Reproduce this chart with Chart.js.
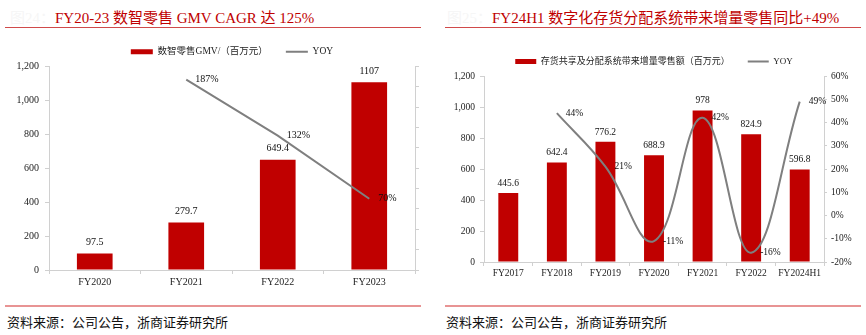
<html>
<head>
<meta charset="utf-8">
<script src="https://cdnjs.cloudflare.com/ajax/libs/Chart.js/4.4.1/chart.umd.min.js"></script>
<style>
  body { margin: 0; width: 866px; height: 335px; background: #fff; position: relative; overflow: hidden; }
  .title { position: absolute; top: 6px; font-family: "Liberation Serif", "Noto Sans CJK SC", serif; font-size: 15px; color: #c00000; white-space: nowrap; }
  .title span { color: #f6f6f6; }
  .rule { position: absolute; height: 1px; background: #d04a4a; }
  .foot { position: absolute; height: 2px; background: #e89494; top: 305px; }
  .source { position: absolute; top: 312px; font-family: "Noto Sans CJK SC", sans-serif; font-size: 13px; color: #111; white-space: nowrap; }
  canvas { position: absolute; }
</style>
</head>
<body>
  <div class="title" style="left:10px"><span>图24：</span>FY20-23 数智零售 GMV CAGR 达 125%</div>
  <div class="rule" style="left:5px; width:416px; top:27px"></div>
  <div class="title" style="left:447px"><span>图25：</span>FY24H1 数字化存货分配系统带来增量零售同比+49%</div>
  <div class="rule" style="left:445px; width:416px; top:27px"></div>

  <canvas id="leftChart" width="430" height="269" style="left:0; top:29px"></canvas>
  <canvas id="rightChart" width="433" height="249" style="left:433px; top:39px"></canvas>

  <div class="foot" style="left:5px; width:416px"></div>
  <div class="foot" style="left:445px; width:416px"></div>
  <div class="source" style="left:7px">资料来源：公司公告，浙商证券研究所</div>
  <div class="source" style="left:446px">资料来源：公司公告，浙商证券研究所</div>

<script>
  // left chart: 数智零售 GMV
  var leftCats = ['FY2020', 'FY2021', 'FY2022', 'FY2023'];
  var leftGmv = [97.5, 279.7, 649.4, 1107];
  var leftYoy = [null, 1.87, 1.32, 0.70];

  // right chart: 存货共享及分配系统带来增量零售额
  var rightCats = ['FY2017', 'FY2018', 'FY2019', 'FY2020', 'FY2021', 'FY2022', 'FY2024H1'];
  var rightSales = [445.6, 642.4, 776.2, 688.9, 978, 824.9, 596.8];
  var rightYoy = [null, 0.44, 0.21, -0.11, 0.42, -0.16, 0.49];

  var serif = '"Liberation Serif", "Noto Sans CJK SC", serif';
  var barRed = '#c00000';
  var lineGray = '#7f7f7f';
  var axisGray = '#d0d0d0';

  Chart.defaults.font.family = serif;
  Chart.defaults.color = '#222';

  function pct(v) { return Math.round(v * 100) + '%'; }

  // draws the numbers on bars and line points
  var valueLabels = {
    id: 'valueLabels',
    afterDatasetsDraw(chart, args, opts) {
      var ctx = chart.ctx;
      ctx.save();
      ctx.font = opts.size + 'px ' + serif;
      ctx.fillStyle = '#111';
      ctx.textBaseline = 'middle';
      chart.data.datasets.forEach(function (ds, i) {
        var meta = chart.getDatasetMeta(i);
        meta.data.forEach(function (el, j) {
          var v = ds.data[j];
          if (v == null) return;
          if (ds.type === 'line') {
            ctx.textAlign = 'left';
            ctx.fillText(pct(v), el.x + opts.lineGap, el.y);
          } else {
            ctx.textAlign = 'center';
            ctx.fillText(String(v), el.x, el.y - opts.barGap);
          }
        });
      });
      ctx.restore();
    }
  };

  function fixWidth(w) { return function (scale) { scale.width = w; }; }
  function fixHeight(h) { return function (scale) { scale.height = h; }; }

  // left
  new Chart(document.getElementById('leftChart'), {
    type: 'bar',
    data: {
      labels: leftCats,
      datasets: [
        { type: 'bar', label: '数智零售GMV/（百万元）', data: leftGmv, backgroundColor: barRed,
          barPercentage: 0.39, categoryPercentage: 1, yAxisID: 'y', order: 1, pointStyle: 'rect' },
        { type: 'line', label: 'YOY', data: leftYoy, borderColor: lineGray, backgroundColor: lineGray,
          borderWidth: 2, pointRadius: 0, tension: 0, yAxisID: 'y1', order: 0, pointStyle: 'line' }
      ]
    },
    options: {
      responsive: false,
      animation: false,
      layout: { padding: 0 },
      plugins: {
        tooltip: { enabled: false },
        legend: {
          fullSize: false, reverse: true, maxHeight: 39,
          labels: { usePointStyle: true, pointStyleWidth: 22, boxHeight: 5, padding: 18,
                    color: '#222', font: { size: 9.5 } }
        },
        valueLabels: { size: 10, lineGap: 9, barGap: 11 }
      },
      scales: {
        x: {
          afterFit: fixHeight(28),
          border: { color: axisGray },
          grid: { drawOnChartArea: false, color: axisGray, tickLength: 4 },
          ticks: { padding: 2, font: { size: 10 } }
        },
        y: {
          position: 'left', min: 0, max: 1200,
          afterFit: fixWidth(49),
          border: { color: axisGray },
          grid: { drawOnChartArea: false, color: axisGray, tickLength: 4 },
          ticks: { stepSize: 200, padding: 6, font: { size: 10 },
                   callback: function (v) { return v.toLocaleString('en-US'); } }
        },
        y1: {
          position: 'right', min: 0, max: 2,
          afterFit: fixWidth(15),
          border: { color: axisGray },
          grid: { drawOnChartArea: false, color: axisGray, tickLength: 4 },
          ticks: { stepSize: 0.2, display: false }
        }
      }
    },
    plugins: [valueLabels]
  });

  // right
  new Chart(document.getElementById('rightChart'), {
    type: 'bar',
    data: {
      labels: rightCats,
      datasets: [
        { type: 'bar', label: '存货共享及分配系统带来增量零售额（百万元）', data: rightSales, backgroundColor: barRed,
          barPercentage: 0.41, categoryPercentage: 1, yAxisID: 'y', order: 1, pointStyle: 'rect' },
        { type: 'line', label: 'YOY', data: rightYoy, borderColor: lineGray, backgroundColor: lineGray,
          borderWidth: 2, pointRadius: 0, tension: 0.4, yAxisID: 'y1', order: 0, pointStyle: 'line' }
      ]
    },
    options: {
      responsive: false,
      animation: false,
      layout: { padding: 0 },
      plugins: {
        tooltip: { enabled: false },
        legend: {
          fullSize: false, reverse: true, maxHeight: 37,
          labels: { usePointStyle: true, pointStyleWidth: 21, boxHeight: 5, padding: 18,
                    color: '#222', font: { size: 9 } }
        },
        valueLabels: { size: 9.5, lineGap: 9, barGap: 9.5 }
      },
      scales: {
        x: {
          afterFit: fixHeight(26),
          border: { color: axisGray },
          grid: { drawOnChartArea: false, color: axisGray, tickLength: 4 },
          ticks: { padding: 1.5, font: { size: 9.5 }, maxRotation: 0, autoSkip: false }
        },
        y: {
          position: 'left', min: 0, max: 1200,
          afterFit: fixWidth(51),
          border: { color: axisGray },
          grid: { drawOnChartArea: false, color: axisGray, tickLength: 4 },
          ticks: { stepSize: 200, padding: 5, font: { size: 9.5 },
                   callback: function (v) { return v.toLocaleString('en-US'); } }
        },
        y1: {
          position: 'right', min: -0.2, max: 0.6,
          afterFit: fixWidth(42),
          border: { color: axisGray },
          grid: { drawOnChartArea: false, color: axisGray, tickLength: 3 },
          ticks: { stepSize: 0.1, padding: 4, font: { size: 9.5 }, callback: function (v) { return pct(v); } }
        }
      }
    },
    plugins: [valueLabels]
  });
</script>
</body>
</html>
